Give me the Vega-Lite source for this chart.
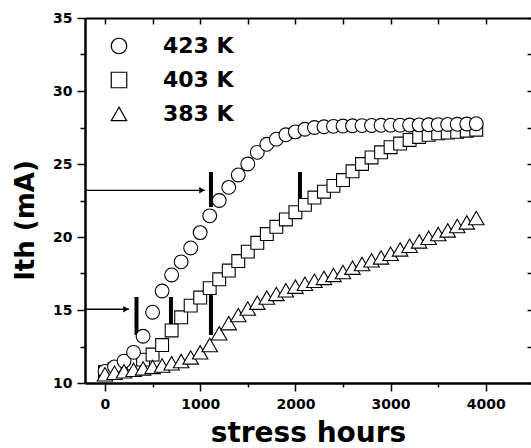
{
  "$schema": "https://vega.github.io/schema/vega-lite/v6.json",
  "width": 446,
  "height": 365,
  "autosize": {"type": "none"},
  "padding": {"left": 85, "top": 18, "right": 0, "bottom": 65},
  "background": "white",
  "config": {
    "view": {"stroke": null},
    "font": "DejaVu Sans",
    "axis": {
      "grid": false,
      "domainColor": "black",
      "tickColor": "black",
      "labelColor": "black",
      "titleColor": "black",
      "labelFont": "DejaVu Sans",
      "labelFontWeight": "bold",
      "titleFont": "DejaVu Sans",
      "titleFontWeight": "bold",
      "labelFlush": false,
      "labelOverlap": false
    }
  },
  "resolve": {"axis": {"x": "independent", "y": "independent"}},
  "datasets": {
    "pts": [
      {"T": "403 K", "h": 0, "ith": 10.75}, {"T": "403 K", "h": 100, "ith": 10.95}, {"T": "403 K", "h": 200, "ith": 11.15}, {"T": "403 K", "h": 300, "ith": 11.35}, {"T": "403 K", "h": 400, "ith": 11.6},
      {"T": "403 K", "h": 500, "ith": 11.95}, {"T": "403 K", "h": 600, "ith": 12.6}, {"T": "403 K", "h": 700, "ith": 13.6}, {"T": "403 K", "h": 800, "ith": 14.5}, {"T": "403 K", "h": 900, "ith": 15.3},
      {"T": "403 K", "h": 1000, "ith": 15.85}, {"T": "403 K", "h": 1100, "ith": 16.5}, {"T": "403 K", "h": 1200, "ith": 17.1}, {"T": "403 K", "h": 1300, "ith": 17.7}, {"T": "403 K", "h": 1400, "ith": 18.35},
      {"T": "403 K", "h": 1500, "ith": 19.0}, {"T": "403 K", "h": 1600, "ith": 19.6}, {"T": "403 K", "h": 1700, "ith": 20.2}, {"T": "403 K", "h": 1800, "ith": 20.7}, {"T": "403 K", "h": 1900, "ith": 21.2},
      {"T": "403 K", "h": 2000, "ith": 21.7}, {"T": "403 K", "h": 2100, "ith": 22.2}, {"T": "403 K", "h": 2200, "ith": 22.7}, {"T": "403 K", "h": 2300, "ith": 23.1}, {"T": "403 K", "h": 2400, "ith": 23.5},
      {"T": "403 K", "h": 2500, "ith": 23.9}, {"T": "403 K", "h": 2600, "ith": 24.5}, {"T": "403 K", "h": 2700, "ith": 25.0}, {"T": "403 K", "h": 2800, "ith": 25.45}, {"T": "403 K", "h": 2900, "ith": 25.8},
      {"T": "403 K", "h": 3000, "ith": 26.15}, {"T": "403 K", "h": 3100, "ith": 26.4}, {"T": "403 K", "h": 3200, "ith": 26.65}, {"T": "403 K", "h": 3300, "ith": 26.85}, {"T": "403 K", "h": 3400, "ith": 27.0},
      {"T": "403 K", "h": 3500, "ith": 27.1}, {"T": "403 K", "h": 3600, "ith": 27.15}, {"T": "403 K", "h": 3700, "ith": 27.2}, {"T": "403 K", "h": 3800, "ith": 27.28}, {"T": "403 K", "h": 3900, "ith": 27.35},

      {"T": "423 K", "h": 0, "ith": 10.8}, {"T": "423 K", "h": 100, "ith": 11.1}, {"T": "423 K", "h": 200, "ith": 11.5}, {"T": "423 K", "h": 300, "ith": 12.1}, {"T": "423 K", "h": 400, "ith": 13.2},
      {"T": "423 K", "h": 500, "ith": 14.85}, {"T": "423 K", "h": 600, "ith": 16.3}, {"T": "423 K", "h": 700, "ith": 17.4}, {"T": "423 K", "h": 800, "ith": 18.3}, {"T": "423 K", "h": 900, "ith": 19.25},
      {"T": "423 K", "h": 1000, "ith": 20.3}, {"T": "423 K", "h": 1100, "ith": 21.45}, {"T": "423 K", "h": 1200, "ith": 22.5}, {"T": "423 K", "h": 1300, "ith": 23.4}, {"T": "423 K", "h": 1400, "ith": 24.25},
      {"T": "423 K", "h": 1500, "ith": 25.0}, {"T": "423 K", "h": 1600, "ith": 25.8}, {"T": "423 K", "h": 1700, "ith": 26.35}, {"T": "423 K", "h": 1800, "ith": 26.7}, {"T": "423 K", "h": 1900, "ith": 27.0},
      {"T": "423 K", "h": 2000, "ith": 27.2}, {"T": "423 K", "h": 2100, "ith": 27.38}, {"T": "423 K", "h": 2200, "ith": 27.5}, {"T": "423 K", "h": 2300, "ith": 27.55}, {"T": "423 K", "h": 2400, "ith": 27.58},
      {"T": "423 K", "h": 2500, "ith": 27.6}, {"T": "423 K", "h": 2600, "ith": 27.62}, {"T": "423 K", "h": 2700, "ith": 27.63}, {"T": "423 K", "h": 2800, "ith": 27.64}, {"T": "423 K", "h": 2900, "ith": 27.65},
      {"T": "423 K", "h": 3000, "ith": 27.66}, {"T": "423 K", "h": 3100, "ith": 27.66}, {"T": "423 K", "h": 3200, "ith": 27.67}, {"T": "423 K", "h": 3300, "ith": 27.68}, {"T": "423 K", "h": 3400, "ith": 27.69},
      {"T": "423 K", "h": 3500, "ith": 27.7}, {"T": "423 K", "h": 3600, "ith": 27.71}, {"T": "423 K", "h": 3700, "ith": 27.72}, {"T": "423 K", "h": 3800, "ith": 27.74}, {"T": "423 K", "h": 3900, "ith": 27.76},

      {"T": "383 K", "h": 0, "ith": 10.6}, {"T": "383 K", "h": 100, "ith": 10.7}, {"T": "383 K", "h": 200, "ith": 10.8}, {"T": "383 K", "h": 300, "ith": 10.9}, {"T": "383 K", "h": 400, "ith": 11.0},
      {"T": "383 K", "h": 500, "ith": 11.1}, {"T": "383 K", "h": 600, "ith": 11.2}, {"T": "383 K", "h": 700, "ith": 11.35}, {"T": "383 K", "h": 800, "ith": 11.5}, {"T": "383 K", "h": 900, "ith": 11.75},
      {"T": "383 K", "h": 1000, "ith": 12.1}, {"T": "383 K", "h": 1100, "ith": 12.6}, {"T": "383 K", "h": 1200, "ith": 13.4}, {"T": "383 K", "h": 1300, "ith": 14.1}, {"T": "383 K", "h": 1400, "ith": 14.65},
      {"T": "383 K", "h": 1500, "ith": 15.1}, {"T": "383 K", "h": 1600, "ith": 15.5}, {"T": "383 K", "h": 1700, "ith": 15.85}, {"T": "383 K", "h": 1800, "ith": 16.1}, {"T": "383 K", "h": 1900, "ith": 16.35},
      {"T": "383 K", "h": 2000, "ith": 16.6}, {"T": "383 K", "h": 2100, "ith": 16.8}, {"T": "383 K", "h": 2200, "ith": 17.0}, {"T": "383 K", "h": 2300, "ith": 17.2}, {"T": "383 K", "h": 2400, "ith": 17.4},
      {"T": "383 K", "h": 2500, "ith": 17.6}, {"T": "383 K", "h": 2600, "ith": 17.9}, {"T": "383 K", "h": 2700, "ith": 18.15}, {"T": "383 K", "h": 2800, "ith": 18.4}, {"T": "383 K", "h": 2900, "ith": 18.6},
      {"T": "383 K", "h": 3000, "ith": 18.85}, {"T": "383 K", "h": 3100, "ith": 19.15}, {"T": "383 K", "h": 3200, "ith": 19.4}, {"T": "383 K", "h": 3300, "ith": 19.7}, {"T": "383 K", "h": 3400, "ith": 19.95},
      {"T": "383 K", "h": 3500, "ith": 20.2}, {"T": "383 K", "h": 3600, "ith": 20.45}, {"T": "383 K", "h": 3700, "ith": 20.75}, {"T": "383 K", "h": 3800, "ith": 21.0}, {"T": "383 K", "h": 3900, "ith": 21.3}
    ],
    "bars": [
      {"h": 331, "lo": 13.29, "hi": 15.89},
      {"h": 693, "lo": 13.29, "hi": 15.89},
      {"h": 1113, "lo": 13.29, "hi": 16.03},
      {"h": 1113, "lo": 22.05, "hi": 24.45},
      {"h": 2048, "lo": 21.92, "hi": 24.45}
    ],
    "arrows": [
      {"x0": -210, "x1": 1050, "y": 23.2},
      {"x0": -210, "x1": 252, "y": 15.05}
    ]
  },
  "layer": [
    {
      "data": {"name": "bars"},
      "mark": {"type": "rule", "strokeWidth": 4, "color": "black"},
      "encoding": {
        "x": {"field": "h", "type": "quantitative",
          "scale": {"domain": [-210, 4475], "nice": false, "zero": false},
          "axis": {"orient": "top", "values": [0, 500, 1000, 1500, 2000, 2500, 3000, 3500, 4000], "labels": false, "tickSize": -6, "tickWidth": 1.5, "domainWidth": 2, "title": null}},
        "y": {"field": "lo", "type": "quantitative",
          "scale": {"domain": [10, 35], "nice": false, "zero": false},
          "axis": {"orient": "right", "values": [10, 12.5, 15, 17.5, 20, 22.5, 25, 27.5, 30, 32.5, 35], "labels": false, "domain": false, "tickSize": -4, "tickWidth": 1.5, "title": null}},
        "y2": {"field": "hi"}
      }
    },
    {
      "data": {"name": "arrows"},
      "mark": {"type": "rule", "strokeWidth": 1.3, "color": "black"},
      "encoding": {
        "x": {"field": "x0", "type": "quantitative", "axis": null},
        "x2": {"field": "x1"},
        "y": {"field": "y", "type": "quantitative", "axis": null}
      }
    },
    {
      "data": {"name": "arrows"},
      "mark": {"type": "point", "shape": "triangle-right", "filled": true, "color": "black", "size": 40, "xOffset": -3, "opacity": 1},
      "encoding": {
        "x": {"field": "x1", "type": "quantitative", "axis": null},
        "y": {"field": "y", "type": "quantitative", "axis": null}
      }
    },
    {
      "data": {"name": "pts"},
      "transform": [{"filter": "datum.T === '403 K'"}],
      "mark": {"type": "point", "filled": false, "fill": "white", "stroke": "black", "strokeWidth": 1.1, "size": 165, "opacity": 1},
      "encoding": {
        "x": {"field": "h", "type": "quantitative",
          "axis": {"orient": "bottom", "values": [0, 500, 1000, 1500, 2000, 2500, 3000, 3500, 4000], "format": "d",
            "labelExpr": "datum.value % 1000 === 0 ? datum.label : ''",
            "tickSize": {"condition": {"test": "datum.value % 1000 === 0", "value": 8}, "value": 4},
            "tickWidth": 1.5, "domainWidth": 2.5, "labelFontSize": 14, "labelPadding": 6,
            "title": "stress hours", "titleFontSize": 28, "titleBaseline": "alphabetic", "titleY": 58}},
        "y": {"field": "ith", "type": "quantitative",
          "axis": {"orient": "left", "values": [10, 12.5, 15, 17.5, 20, 22.5, 25, 27.5, 30, 32.5, 35], "format": "d",
            "labelExpr": "datum.value % 5 === 0 ? datum.label : ''",
            "tickSize": {"condition": {"test": "datum.value % 5 === 0", "value": 8}, "value": 5},
            "tickWidth": 1.5, "domainWidth": 2.5, "labelFontSize": 14, "labelPadding": 5,
            "title": "Ith (mA)", "titleFontSize": 26, "titleBaseline": "alphabetic", "titleX": -52, "titleY": 202}},
        "shape": {"field": "T", "type": "nominal",
          "scale": {"domain": ["423 K", "403 K", "383 K"], "range": ["circle", "square", "triangle-up"]},
          "legend": {"orient": "none", "legendX": 23, "legendY": 17, "title": null,
            "labelFont": "DejaVu Sans", "labelFontSize": 22, "labelFontWeight": "bold", "labelColor": "black",
            "symbolSize": 240, "symbolStrokeWidth": 1.2,
            "labelOffset": 33, "rowPadding": 12}}
      }
    },
    {
      "data": {"name": "pts"},
      "transform": [{"filter": "datum.T === '423 K'"}],
      "mark": {"type": "point", "filled": false, "fill": "white", "stroke": "black", "strokeWidth": 1.1, "size": 190, "opacity": 1},
      "encoding": {
        "x": {"field": "h", "type": "quantitative", "axis": null},
        "y": {"field": "ith", "type": "quantitative", "axis": null},
        "shape": {"field": "T", "type": "nominal", "legend": null}
      }
    },
    {
      "data": {"name": "pts"},
      "transform": [{"filter": "datum.T === '383 K'"}],
      "mark": {"type": "point", "filled": false, "fill": "white", "stroke": "black", "strokeWidth": 1.1, "size": 240, "opacity": 1},
      "encoding": {
        "x": {"field": "h", "type": "quantitative", "axis": null},
        "y": {"field": "ith", "type": "quantitative", "axis": null},
        "shape": {"field": "T", "type": "nominal", "legend": null}
      }
    }
  ]
}
